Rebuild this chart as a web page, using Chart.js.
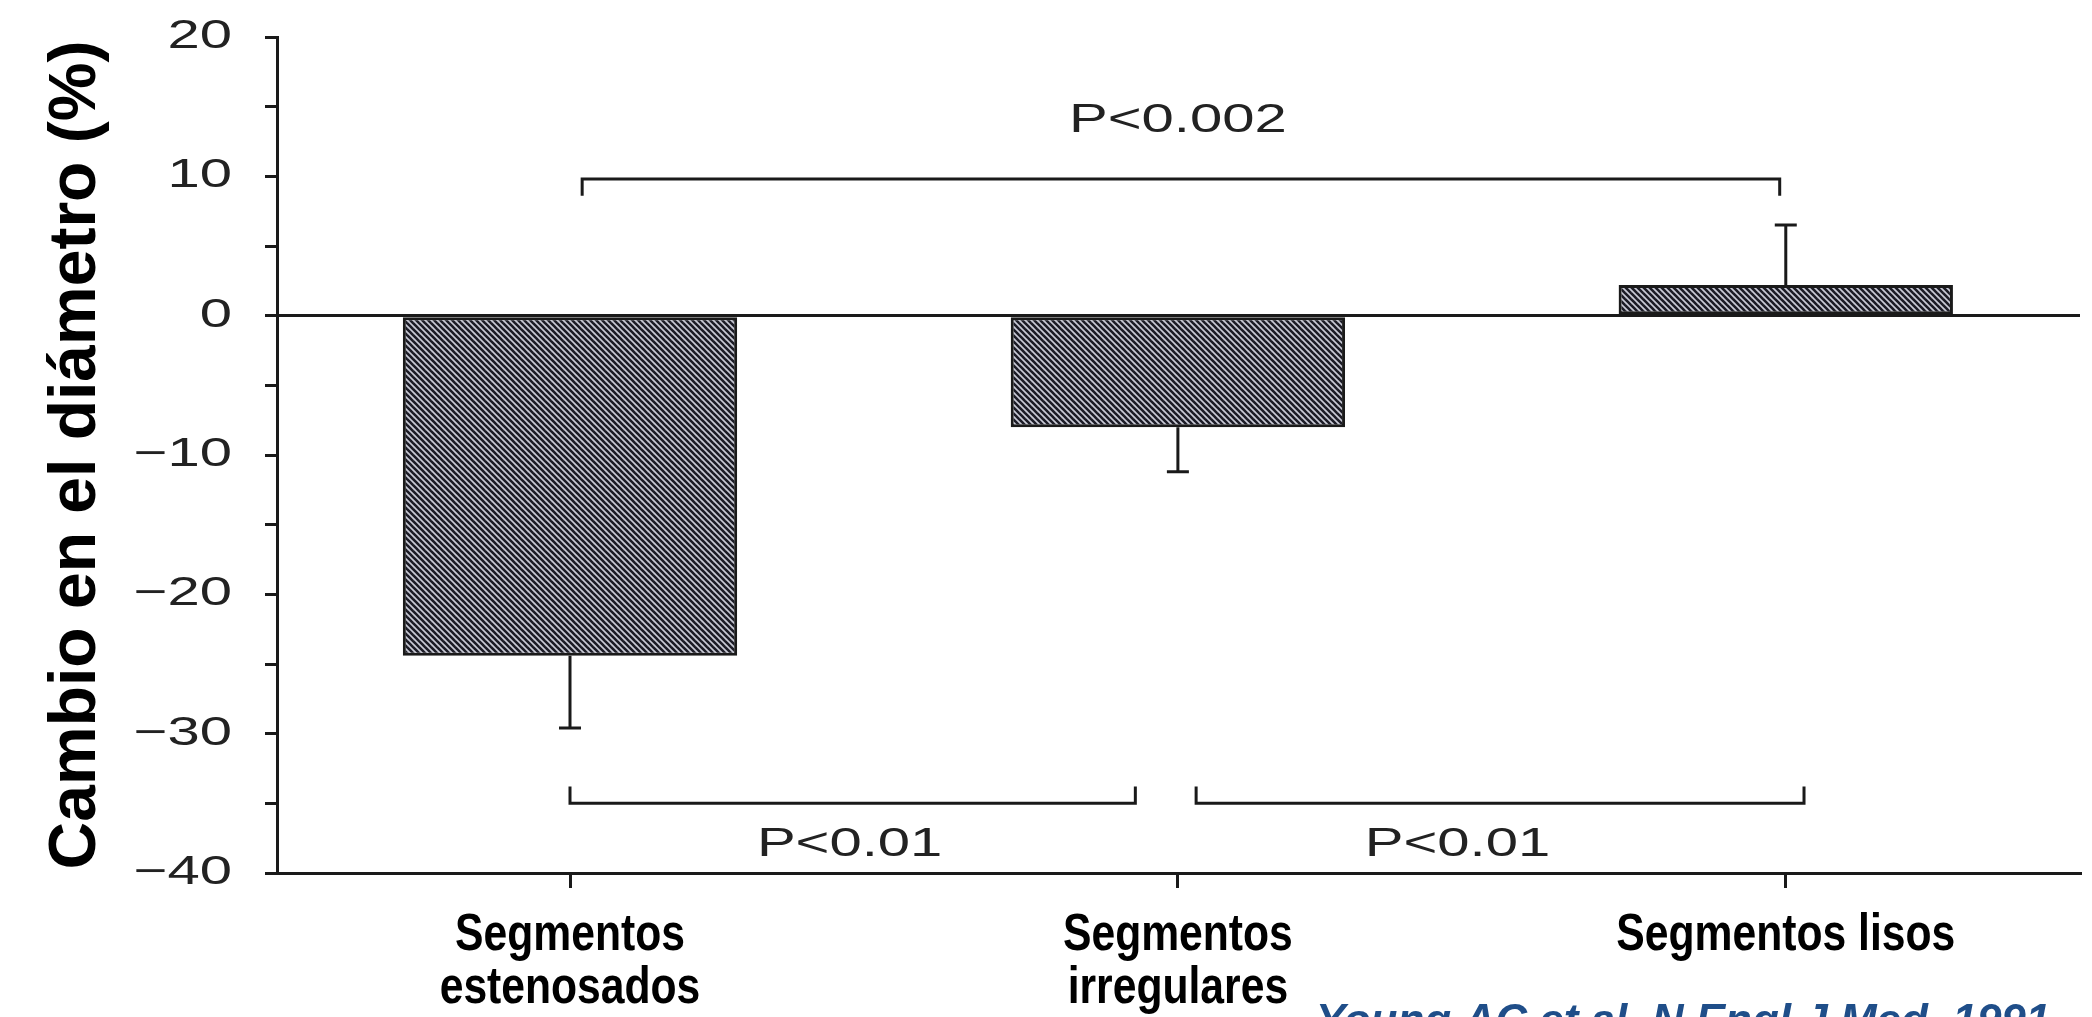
<!DOCTYPE html>
<html>
<head>
<meta charset="utf-8">
<title>Cambio en el diámetro</title>
<script src="https://cdn.jsdelivr.net/npm/chart.js@4.4.1/dist/chart.umd.min.js"></script>
<style>
  html, body { margin: 0; padding: 0; background: #fff; overflow: hidden; }
</style>
</head>
<body>
<canvas id="chart" width="2092" height="1017"></canvas>
<script>
// valores
const categories = [['Segmentos', 'estenosados'], ['Segmentos', 'irregulares'], 'Segmentos lisos'];
const changeValues = [-24.4, -8.0, 2.2];
const errorEnds = [-29.6, -11.2, 6.5];
const yMin = -40, yMax = 20, yMajorStep = 10, yMinorStep = 5;

// llaves de comparación (en unidades de los ejes)
const bracketFrom = [0.02, 0.0, 1.03];
const bracketTo = [1.99, 0.93, 2.03];
const bracketLevel = [9.8, -35.0, -35.0];
const bracketTip = [8.6, -33.8, -33.8];
const pLabels = ['P<0.002', 'P<0.01', 'P<0.01'];
const pLabelX = [1.0, 0.46, 1.46];
const pLabelY = [14.0, -38.0, -38.0];

const citation = 'Young AC et al. N Engl J Med. 1991';

const ink = '#1a1a1a';
const scanFont = '"Liberation Sans", Arial, sans-serif';

function hatch() {
  const n = 6;
  const c = document.createElement('canvas');
  c.width = n; c.height = n;
  const g = c.getContext('2d');
  g.fillStyle = '#c9cad6';
  g.fillRect(0, 0, n, n);
  g.strokeStyle = '#1c1c26';
  g.lineWidth = 2.6;
  for (const o of [-n, 0, n]) {
    g.beginPath();
    g.moveTo(o - 1, -1);
    g.lineTo(o + n + 1, n + 1);
    g.stroke();
  }
  return g.createPattern(c, 'repeat');
}

// dibuja las etiquetas de un eje estiradas/comprimidas en horizontal
function stretchLabels(sx) {
  return s => {
    if (s._stretched) return;
    s._stretched = true;
    s.drawLabels = function (area) {
      const ctx = this.ctx;
      for (const item of this.getLabelItems(area)) {
        const [tx, ty] = item.options.translation;
        ctx.save();
        ctx.translate(tx, ty);
        ctx.scale(sx, 1);
        Chart.helpers.renderText(ctx, item.label, 0, item.textOffset, item.font,
          Object.assign({}, item.options, { translation: null }));
        ctx.restore();
      }
    };
  };
}

const errorBars = {
  id: 'errorBars',
  afterDatasetsDraw(chart) {
    const { ctx, scales: { y } } = chart;
    const meta = chart.getDatasetMeta(0);
    ctx.save();
    ctx.strokeStyle = ink;
    ctx.lineWidth = 3;
    meta.data.forEach((bar, i) => {
      const yEnd = y.getPixelForValue(errorEnds[i]);
      ctx.beginPath();
      ctx.moveTo(bar.x, bar.y);
      ctx.lineTo(bar.x, yEnd);
      ctx.moveTo(bar.x - 11, yEnd);
      ctx.lineTo(bar.x + 11, yEnd);
      ctx.stroke();
    });
    ctx.restore();
  }
};

const brackets = {
  id: 'brackets',
  afterDraw(chart) {
    const { ctx, scales: { x, y } } = chart;
    ctx.save();
    ctx.strokeStyle = ink;
    ctx.lineWidth = 3;
    bracketFrom.forEach((from, i) => {
      const xa = x.getPixelForValue(from);
      const xb = x.getPixelForValue(bracketTo[i]);
      const yl = y.getPixelForValue(bracketLevel[i]);
      const yt = y.getPixelForValue(bracketTip[i]);
      ctx.beginPath();
      ctx.moveTo(xa, yt);
      ctx.lineTo(xa, yl);
      ctx.lineTo(xb, yl);
      ctx.lineTo(xb, yt);
      ctx.stroke();
    });
    ctx.fillStyle = '#222';
    ctx.font = '40px ' + scanFont;
    ctx.textAlign = 'center';
    ctx.textBaseline = 'middle';
    pLabels.forEach((t, i) => {
      ctx.save();
      ctx.translate(x.getPixelForValue(pLabelX[i]), y.getPixelForValue(pLabelY[i]));
      ctx.scale(1.45, 1);
      ctx.fillText(t, 0, 0);
      ctx.restore();
    });
    ctx.fillStyle = '#1f4e89';
    ctx.font = 'italic bold 44px ' + scanFont;
    ctx.textAlign = 'left';
    ctx.textBaseline = 'alphabetic';
    ctx.fillText(citation, 1316, 1035);
    ctx.restore();
  }
};

new Chart(document.getElementById('chart'), {
  type: 'bar',
  data: {
    datasets: [{
      data: changeValues.map((v, i) => ({ x: i, y: v })),
      backgroundColor: hatch(),
      borderColor: ink,
      borderWidth: 3,
      borderSkipped: false,
      categoryPercentage: 1,
      barPercentage: 0.55
    }]
  },
  options: {
    responsive: false,
    devicePixelRatio: 1,
    animation: false,
    layout: { padding: { top: 37, right: 12, left: 0, bottom: 0 } },
    plugins: { legend: { display: false }, tooltip: { enabled: false } },
    scales: {
      x: {
        type: 'linear',
        offset: false,
        min: -0.482,
        max: 2.484,
        afterFit: s => { s.height = 144; },
        afterUpdate: stretchLabels(0.82),
        border: { display: true, color: ink, width: 3 },
        grid: { offset: false, drawOnChartArea: false, drawTicks: true, tickLength: 15, color: ink, lineWidth: 3 },
        ticks: {
          stepSize: 1,
          includeBounds: false,
          autoSkip: false,
          maxRotation: 0,
          padding: 21,
          color: '#000',
          font: { family: scanFont, size: 52, weight: 'bold', lineHeight: 1.02 },
          callback: v => categories[v] ?? ''
        }
      },
      y: {
        min: yMin,
        max: yMax,
        afterFit: s => { s.width = 277; s.paddingTop = 0; s.paddingBottom = 0; },
        afterUpdate: stretchLabels(1.45),
        border: { display: true, color: ink, width: 3 },
        grid: {
          color: c => (c.tick && c.tick.value === 0 ? ink : 'rgba(0,0,0,0)'),
          tickColor: ink,
          lineWidth: 3,
          tickLength: 12
        },
        ticks: {
          stepSize: yMinorStep,
          autoSkip: false,
          padding: 33,
          color: '#222',
          font: { family: scanFont, size: 40 },
          callback: v => (v % yMajorStep === 0 ? (v < 0 ? '\u2212' + Math.abs(v) : String(v)) : '')
        },
        title: {
          display: true,
          text: 'Cambio en el diámetro (%)',
          color: '#000',
          font: { family: scanFont, size: 66, weight: 'bold', lineHeight: 1.2 },
          padding: { top: 37, bottom: 0 }
        }
      }
    }
  },
  plugins: [errorBars, brackets]
});
</script>
</body>
</html>
